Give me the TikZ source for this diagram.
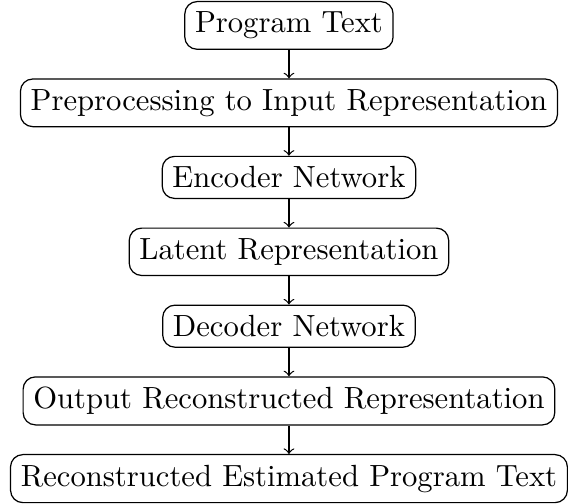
\documentclass[tikz,border=0pt]{standalone}
\usetikzlibrary{positioning}
\begin{document}
\begin{tikzpicture}[
  box/.style={draw, rounded corners=4pt, align=center},
  link/.style={->},
  node distance=9.3pt
]
\node[box] (n1) at (0,0) {Program Text};
\node[box, below=of n1] (n2) {Preprocessing to Input Representation};
\node[box, below=of n2] (n3) {Encoder Network};
\node[box, below=of n3] (n4) {Latent Representation};
\node[box, below=of n4] (n5) {Decoder Network};
\node[box, below=of n5] (n6) {Output Reconstructed Representation};
\node[box, below=of n6] (n7) {Reconstructed Estimated Program Text};
\draw[link] (n1) -- (n2);
\draw[link] (n2) -- (n3);
\draw[link] (n3) -- (n4);
\draw[link] (n4) -- (n5);
\draw[link] (n5) -- (n6);
\draw[link] (n6) -- (n7);
\coordinate (tl) at ([xshift=-94.3pt, yshift=0.32pt]n1.north);
\useasboundingbox (tl) rectangle ++(180.9pt,-159.9pt);
\end{tikzpicture}
\end{document}
